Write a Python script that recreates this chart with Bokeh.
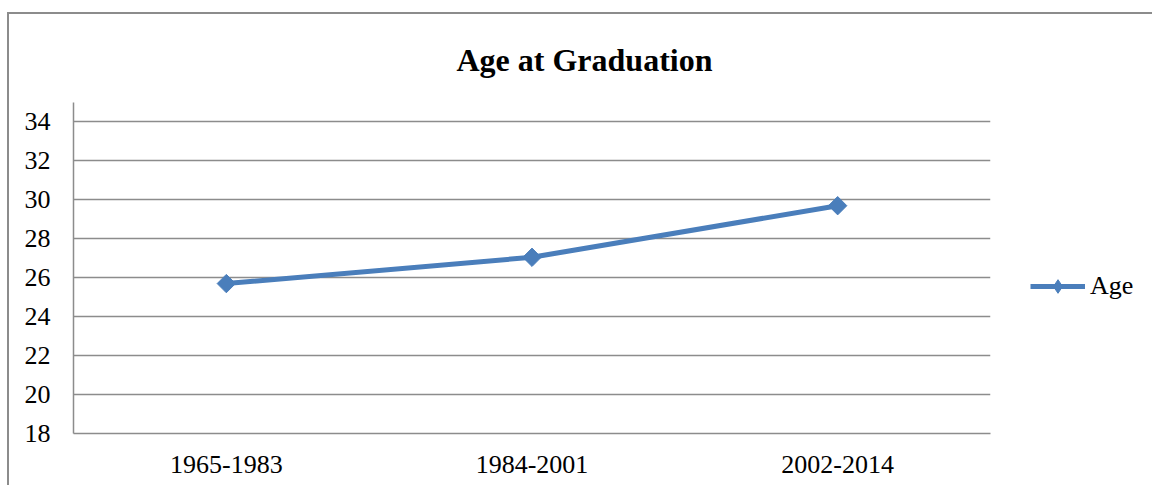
from bokeh.plotting import figure
from bokeh.models import Range1d, FactorRange, Legend, LegendItem, Title, FixedTicker
from bokeh.embed import file_html
from bokeh.resources import INLINE
import math

periods = ["1965-1983", "1984-2001", "2002-2014"]
age = [25.7, 27.05, 29.7]
y_ticks = [18, 20, 22, 24, 26, 28, 30, 32, 34]
title_text = "Age at Graduation"
series_name = "Age"

FONT = "Liberation Serif"
BLUE = "#4A7EBB"
GRID = "#8C8C8C"

p = figure(frame_width=917, frame_height=331,
           x_range=FactorRange(*periods), y_range=Range1d(18, 35),
           output_backend="svg", toolbar_location=None,
           min_border_left=64, min_border_right=0, min_border_top=0,
           min_border_bottom=52)
p.outline_line_color = None
p.styles = {"margin-left": "7px", "margin-top": "12px",
            "border-left": "2px solid #8C8C8C", "border-top": "2px solid #8C8C8C"}

p.xgrid.grid_line_color = None
p.ygrid.grid_line_color = GRID
p.ygrid.grid_line_width = 1.5
p.yaxis.ticker = FixedTicker(ticks=y_ticks)

for ax in (p.xaxis[0], p.yaxis[0]):
    ax.axis_line_color = GRID
    ax.axis_line_width = 1.5
    ax.major_tick_line_color = None
    ax.minor_tick_line_color = None
    ax.major_tick_out = 0
    ax.major_tick_in = 0
    ax.major_label_text_font = FONT
    ax.major_label_text_font_size = "26px"
    ax.major_label_text_color = "#000000"
p.yaxis.major_label_standoff = 23
p.xaxis.major_label_standoff = 22

r_line = p.line(periods, age, line_color=BLUE, line_width=5)
# diamond used for the legend swatch (hidden beneath the first point marker)
r_leg = p.scatter(periods[:1], age[:1], marker="diamond", size=12,
                  fill_color=BLUE, line_color=BLUE)
r_pts = p.scatter(periods, age, marker="square", size=13, angle=math.pi / 4,
                  fill_color=BLUE, line_color=BLUE)

p.title = Title(text=title_text, text_font=FONT, text_font_size="32px",
                text_font_style="bold", align="left", offset=383, standoff=50,
                text_color="#000000")

legend = Legend(items=[LegendItem(label=series_name, renderers=[r_line, r_leg])],
                location=(40, 130), glyph_width=55, glyph_height=34,
                label_height=34, label_standoff=5, padding=0, margin=0,
                border_line_color=None, background_fill_alpha=0,
                label_text_font=FONT, label_text_font_size="26px",
                label_text_color="#000000")
p.add_layout(legend, "right")

open("out.html", "w").write(file_html(p, INLINE))
